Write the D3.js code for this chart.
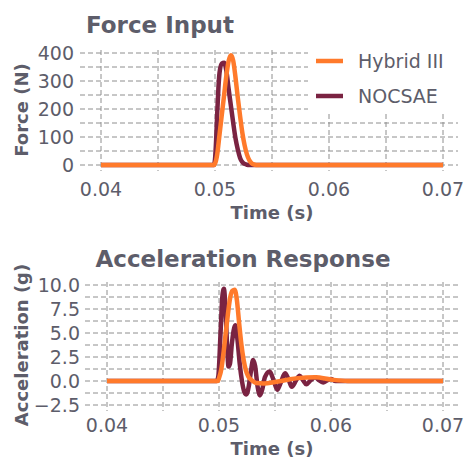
<!DOCTYPE html>
<html>
<head>
<meta charset="utf-8">
<script src="https://cdn.jsdelivr.net/npm/d3@7"></script>
<style>
  html, body { margin: 0; padding: 0; background: #ffffff; }
  svg { display: block; }
  text { font-family: "DejaVu Sans", sans-serif; fill: #5d5d6a; }
</style>
</head>
<body>
<svg id="chart" width="465" height="461"></svg>
<script>
// ---------------- data ----------------
const seriesNames = ["Hybrid III", "NOCSAE"];
const seriesColors = ["#ff7a2b", "#7a2342"];

const xTicks = [0.04, 0.05, 0.06, 0.07];
const forceTicks = [0, 100, 200, 300, 400];
const accTicks = [-2.5, 0.0, 2.5, 5.0, 7.5, 10.0];

// Force input: Hybrid III
const forceTimeH = [0.0400, 0.0499, 0.0500, 0.0502, 0.0504, 0.0506, 0.0508, 0.0510, 0.0512, 0.0514, 0.0516, 0.0518, 0.0520, 0.0522, 0.0524, 0.0526, 0.0528, 0.0530, 0.0532, 0.0534, 0.0536, 0.0700];
const forceH     = [0,      0,      5,      40,     110,    180,    250,    320,    372,    392,    372,    312,    240,    175,    115,    70,     38,     18,     7,      2,      0,      0];
// Force input: NOCSAE
const forceTimeN = [0.0400, 0.0499, 0.0500, 0.0501, 0.0502, 0.0503, 0.0504, 0.0506, 0.0508, 0.0510, 0.0512, 0.0514, 0.0516, 0.0518, 0.0520, 0.0522, 0.0524, 0.0526, 0.0528, 0.0530, 0.0700];
const forceN     = [0,      0,      20,     90,     190,    275,    330,    362,    365,    335,    270,    210,    150,    95,     55,     25,     10,     4,      1,      0,      0];

// Acceleration response: Hybrid III
const accTimeH = [0.0400, 0.0499, 0.0500, 0.0502, 0.0504, 0.0506, 0.0508, 0.0510, 0.0512, 0.0514, 0.0516, 0.0518, 0.0520, 0.0522, 0.0524, 0.0526, 0.0528, 0.0530, 0.0533, 0.0540, 0.0550, 0.0560, 0.0570, 0.0586, 0.0600, 0.0615, 0.0700];
const accH     = [0,      0,      0.3,    1.2,    2.9,    5.0,    7.0,    8.7,    9.4,    9.5,    8.4,    6.0,    3.8,    2.2,    1.1,    0.5,    0.2,    0.0,    -0.2,   -0.25,  -0.1,   0.1,    0.3,    0.38,   0.15,   0.0,    0];
// Acceleration response: NOCSAE
const accTimeN = [0.0400, 0.0498, 0.04994, 0.05015, 0.0503, 0.05044, 0.05058, 0.05072, 0.05085, 0.05098, 0.05115, 0.05145, 0.05165, 0.05185, 0.05205, 0.05225, 0.05245, 0.05265, 0.05285, 0.05305, 0.05322, 0.05345, 0.05366, 0.05388, 0.0541, 0.05452, 0.0549, 0.0552, 0.0555, 0.0559, 0.0562, 0.0565, 0.0569, 0.0572, 0.0575, 0.0578, 0.0582, 0.0586, 0.0589, 0.0593, 0.0597, 0.0600, 0.0604, 0.0610, 0.0700];
const accN     = [0,      0,      0.5,     5.3,     8.8,    9.6,     7.5,     3.8,     1.5,     1.8,     3.9,     5.8,     4.3,     1.8,     0.0,     -1.1,    -1.4,    -0.6,    1.0,     2.2,     1.6,     -0.6,    -1.5,    -0.8,    0.4,    1.0,     0.0,    -0.9,   -0.2,   0.8,    0.2,    -0.6,   0.1,    0.55,   0.1,    -0.35,  0.1,    0.4,    0.1,    -0.15,  0.1,    0.2,    0.0,    0.0,    0];

// ---------------- drawing ----------------
const svg = d3.select("#chart");
const gridColor = "#8e8e8e";

function panel(cfg) {
  const g = svg.append("g");
  const x = d3.scaleLinear().domain([0.04, 0.07]).range(cfg.xRange);
  const y = d3.scaleLinear().domain(cfg.yDomain).range(cfg.yRange);

  // horizontal grid (major + minor)
  const hLines = d3.range(cfg.yDomain[0], cfg.yDomain[1] + cfg.yMinor / 2, cfg.yMinor);
  g.append("g").selectAll("line").data(hLines).join("line")
    .attr("x1", cfg.gridLeft).attr("x2", 458)
    .attr("y1", d => y(d)).attr("y2", d => y(d))
    .attr("stroke", gridColor).attr("stroke-width", 1).attr("stroke-dasharray", "5,3");

  // vertical grid (major + minor)
  const vLines = d3.range(0.04, 0.07 + 0.0025, 0.005);
  g.append("g").selectAll("line").data(vLines).join("line")
    .attr("x1", d => x(d)).attr("x2", d => x(d))
    .attr("y1", cfg.gridTop).attr("y2", cfg.gridBottom)
    .attr("stroke", gridColor).attr("stroke-width", 1).attr("stroke-dasharray", "5,3");

  // legend box (masks grid)
  if (cfg.legend) {
    const lg = g.append("g");
    lg.append("rect").attr("x", 308).attr("y", 48).attr("width", 152).attr("height", 64).attr("fill", "#ffffff");
    seriesNames.forEach((name, i) => {
      const yy = 61 + i * 35;
      lg.append("line").attr("x1", 316).attr("x2", 343).attr("y1", yy).attr("y2", yy)
        .attr("stroke", seriesColors[i]).attr("stroke-width", 4.5);
      lg.append("text").attr("x", 358).attr("y", yy).attr("dy", "0.35em")
        .attr("font-size", 19).text(name);
    });
  }

  // lines: NOCSAE first, Hybrid III on top
  const line = d3.line().x(d => x(d[0])).y(d => y(d[1])).curve(d3.curveMonotoneX);
  const dataN = cfg.tN.map((t, i) => [t, cfg.vN[i]]);
  const dataH = cfg.tH.map((t, i) => [t, cfg.vH[i]]);
  g.append("path").datum(dataN).attr("d", line).attr("fill", "none")
    .attr("stroke", seriesColors[1]).attr("stroke-width", 4.5).attr("stroke-linejoin", "round");
  g.append("path").datum(dataH).attr("d", line).attr("fill", "none")
    .attr("stroke", seriesColors[0]).attr("stroke-width", 4.5).attr("stroke-linejoin", "round");

  // y tick labels
  g.append("g").selectAll("text").data(cfg.yTicks).join("text")
    .attr("x", cfg.yLabelX).attr("y", d => y(d)).attr("dy", "0.36em")
    .attr("text-anchor", "end").attr("font-size", 19)
    .text(cfg.yFormat);

  // x tick labels
  g.append("g").selectAll("text").data(xTicks).join("text")
    .attr("x", d => x(d)).attr("y", cfg.xLabelY)
    .attr("text-anchor", "middle").attr("font-size", 19)
    .text(d => d3.format(".2f")(d));

  // title
  g.append("text").attr("x", cfg.titleX).attr("y", cfg.titleY)
    .attr("text-anchor", "middle").attr("font-size", 23).attr("font-weight", "bold")
    .text(cfg.title);

  // axis titles
  g.append("text").attr("transform", `translate(${cfg.yTitleX},${cfg.yTitleY}) rotate(-90)`)
    .attr("text-anchor", "middle").attr("font-size", 18).attr("font-weight", "bold")
    .text(cfg.yTitle);
  g.append("text").attr("x", 272).attr("y", cfg.xTitleY)
    .attr("text-anchor", "middle").attr("font-size", 18).attr("font-weight", "bold")
    .text("Time (s)");
}

panel({
  xRange: [101, 443], yDomain: [0, 400], yRange: [165, 53], yMinor: 50,
  gridLeft: 80, gridTop: 50, gridBottom: 171,
  tH: forceTimeH, vH: forceH, tN: forceTimeN, vN: forceN,
  yTicks: forceTicks, yFormat: d => d3.format("d")(d), yLabelX: 74,
  xLabelY: 196, title: "Force Input", titleX: 160, titleY: 33,
  yTitle: "Force (N)", yTitleX: 28, yTitleY: 110, xTitleY: 219, legend: true
});

panel({
  xRange: [107, 443], yDomain: [-2.5, 10], yRange: [405, 285], yMinor: 1.25,
  gridLeft: 85, gridTop: 282, gridBottom: 411,
  tH: accTimeH, vH: accH, tN: accTimeN, vN: accN,
  yTicks: accTicks, yFormat: d => d3.format(".1f")(d), yLabelX: 80,
  xLabelY: 432, title: "Acceleration Response", titleX: 243, titleY: 267,
  yTitle: "Acceleration (g)", yTitleX: 28, yTitleY: 345, xTitleY: 455, legend: false
});
</script>
</body>
</html>
